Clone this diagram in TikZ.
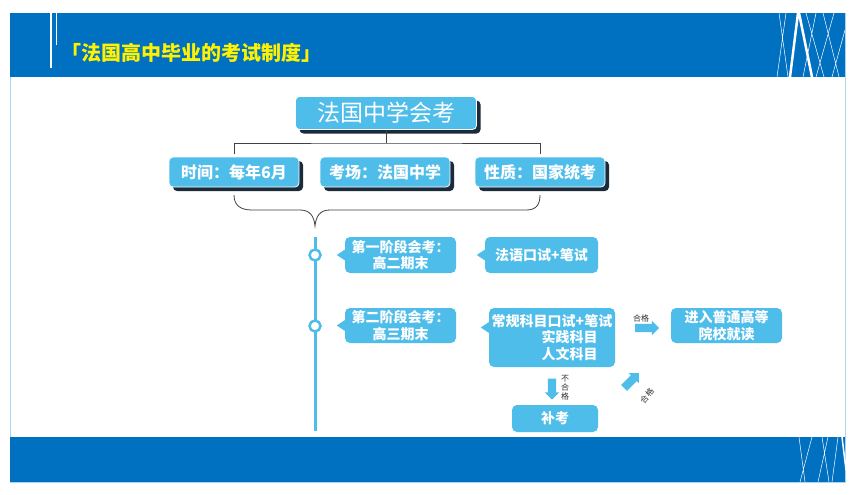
\documentclass[tikz,border=0pt]{standalone}
\usepackage{fontspec}
\setmainfont{Noto Sans CJK SC}
\usetikzlibrary{shapes.arrows,shadows}
\definecolor{band}{HTML}{0070C0}
\definecolor{sky}{HTML}{4FBDEA}
\definecolor{navy}{HTML}{1C2B3A}
\definecolor{rim}{HTML}{A9D5EE}
\begin{document}
\begin{tikzpicture}[
   x=1pt,y=-1pt,
   head/.style={fill=sky,draw=white,line width=0.8pt,rounded corners=4pt,text=white,inner sep=0pt,
     general shadow={fill=navy,draw=none,shadow xshift=4pt,shadow yshift=-4pt}},
   fact/.style={head,font=\bfseries\fontsize{16}{18}\selectfont,minimum width=130pt,minimum height=30pt},
   bubble/.style={fill=sky,rounded corners=5pt,text=white,inner sep=1pt,align=center,
     font=\bfseries\fontsize{14}{16.5}\selectfont},
   dot/.style={circle,draw=sky,fill=white,line width=2.5pt,inner sep=0pt,minimum size=11pt},
   fat/.style={single arrow,fill=sky,inner sep=4pt,minimum height=24pt,single arrow head extend=3pt},
   tiny/.style={font=\fontsize{8}{9}\selectfont,text=black!80,inner sep=0pt,align=center}
 ]
  \useasboundingbox (0,0) rectangle (859,495);
  \fill[white] (0,0) rectangle (859,495);
  % header and footer
  \draw[rim] (10.5,13) rectangle (845.5,482);
  \fill[band] (10,13) rectangle (845,77);
  \fill[band] (10,437) rectangle (845,482);
  \draw[white,line width=1.5pt] (51,13) -- (51,68);
  \draw[white,line width=1pt] (56,13) -- (56,45);
  \draw[white,line width=0.5pt] (779,13) -- (788,77) (786,13) -- (777,77) (806,13) -- (824,77)
    (816,13) -- (803,77) (823,13) -- (839,77) (834,13) -- (816,77) (845,30) -- (832,77);
  \draw[white,line width=2.5pt] (798,13) -- (790,77) (799,13) -- (812,77);
  \draw[white,line width=0.5pt] (799,437) -- (805,482) (812,437) -- (800,482) (822,437) -- (829,482)
    (828,437) -- (818,482) (838,437) -- (832,482);
  \draw[white,line width=1.5pt] (842,437) -- (846,470);
  \node[anchor=west,text=yellow,font=\bfseries\fontsize{20}{22}\selectfont] (title) at (58,53) {「法国高中毕业的考试制度」};

  % top part
  \node[head,font=\fontsize{23}{25}\selectfont,minimum width=181pt,minimum height=33pt] (exam) at (386,113) {法国中学会考};
  \node[fact] (time) at (234,172) {时间：每年6月};
  \node[fact] (site) at (385,172) {考场：法国中学};
  \node[fact] (kind) at (540,172) {性质：国家统考};
  \coordinate (fork) at (386,143);
  \draw[black!75,line width=0.8pt] (exam.south) -- (fork);
  \draw[black!75,line width=0.8pt] ([yshift=3pt]time.north) |- (fork) -| ([yshift=3pt]kind.north);
  \coordinate (tip) at (315,226);
  \draw[black!75,line width=0.8pt] (234,195) .. controls (234,205) and (240,210) .. (252,210) -- (300,210)
    .. controls (310,210) and (314,216) .. (tip) .. controls (316,216) and (320,210) .. (330,210)
    -- (526,210) .. controls (536,210) and (540,205) .. (540,195);

  % time line
  \coordinate (start) at (315,237);
  \coordinate (stop) at (315,431);
  \draw[sky,line width=3pt] (start) -- (stop);
  \node[dot] (d1) at (315,255) {};
  \node[dot] (d2) at (315,326) {};

  \node[bubble,minimum width=111pt,minimum height=36pt] (p1) at (400.5,255) {第一阶段会考：\\高二期末};
  \node[bubble,minimum width=113pt,minimum height=36pt] (p2) at (541.5,255) {法语口试+笔试};
  \node[bubble,minimum width=111pt,minimum height=35pt] (p3) at (400.5,325.5) {第二阶段会考：\\高三期末};
  \node[bubble,minimum width=126pt,minimum height=59pt,align=left] (p4) at (552,337.5)
    {常规科目口试+笔试\\\hspace*{50pt}实践科目\\\hspace*{50pt}人文科目};
  \node[bubble,minimum width=111pt,minimum height=35pt] (p5) at (726.5,325.5) {进入普通高等\\院校就读};
  \node[bubble,minimum width=86pt,minimum height=27pt] (p6) at (555,418.5) {补考};
  \fill[sky] ([xshift=1pt]p1.west) ++(0,-6) -- ++(-9,6) -- ++(9,6) -- cycle;
  \fill[sky] ([xshift=1pt]p2.west) ++(0,-6) -- ++(-9,6) -- ++(9,6) -- cycle;
  \fill[sky] ([xshift=1pt]p3.west) ++(0,-6) -- ++(-9,6) -- ++(9,6) -- cycle;
  \fill[sky] ([xshift=1pt]p4.west) ++(0,-16) -- ++(-9,6) -- ++(9,6) -- cycle;

  % results
  \node[fat] (pass) at (645,328) {};
  \node[tiny] (passlbl) at (641,318) {合格};
  \node[fat,minimum height=21pt,rotate=-90] (fail) at (552,387) {};
  \node[tiny] (faillbl) at (565,388) {不\\合\\格};
  \node[fat,minimum height=21pt,rotate=45] (retry) at (630,382) {};
  \node[tiny,rotate=50] (retrylbl) at (647,396) {合格};
\end{tikzpicture}
\end{document}
